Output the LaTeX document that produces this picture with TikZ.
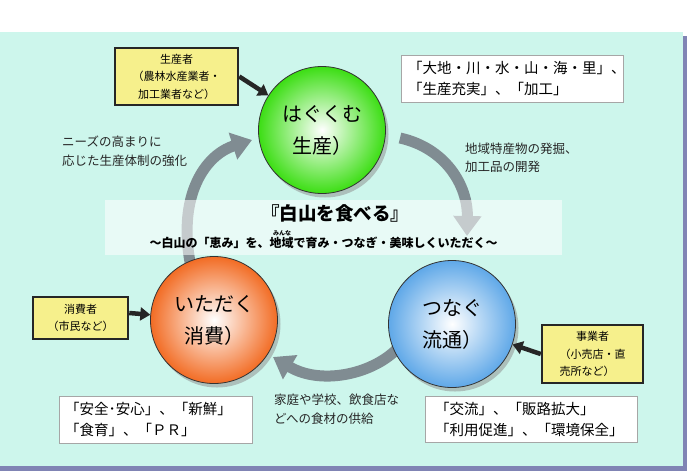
\documentclass[tikz,border=0pt]{standalone}
\usepackage{fontspec}
\setmainfont{Noto Sans CJK JP}
\usetikzlibrary{arrows.meta,shadows,calc}
\definecolor{panelbg}{RGB}{205,246,236}
\definecolor{framec}{RGB}{128,132,180}
\definecolor{flowc}{RGB}{128,140,146}
\definecolor{greenc}{RGB}{60,222,20}
\definecolor{bluec}{RGB}{95,168,232}
\definecolor{orangec}{RGB}{242,108,36}
\definecolor{yellowc}{RGB}{246,240,140}
\begin{document}
\begin{tikzpicture}[x=1pt,y=-1pt,
  circ/.style={circle, minimum size=127pt, inner sep=0pt, draw=black!80, line width=0.8pt,
    shading=radial, inner color=white, align=center, font=\fontsize{20}{32}\selectfont,
    drop shadow={shadow xshift=3pt, shadow yshift=-4pt, fill=black!45, opacity=0.5}},
  ybox/.style={draw=black!85, line width=2.5pt, fill=yellowc, inner sep=0pt, align=center,
    font=\fontsize{11}{17.5}\selectfont},
  wbox/.style={draw=black!35, line width=0.6pt, fill=white, inner ysep=0pt, align=left,
    font=\fontsize{14.5}{21}\selectfont},
  darrow/.style={draw=black!85, line width=4.5pt, -{Triangle[length=10pt,width=13pt]}},
  flow/.style={draw=flowc, line width=11pt, -{Triangle[length=20pt,width=27pt]}},
  lab/.style={align=left, anchor=west, font=\fontsize{12.5}{18.5}\selectfont, text=black!85, inner sep=0pt}
]
\useasboundingbox (0,0) rectangle (690,472);
% panel
\fill[white] (0,0) rectangle (690,472);
\fill[framec] (683,36) rectangle (687,471);
\fill[framec] (0,466) rectangle (687,471);
\fill[panelbg] (0,32) rectangle (683,466);

% flow arcs
\coordinate (a1s) at (400,138);
\coordinate (a1e) at (467,236);
\coordinate (a2s) at (396,350);
\coordinate (a2e) at (273,357);
\coordinate (a3s) at (190,262);
\coordinate (a3e) at (252,140);
\draw[flow] (a1s) .. controls (445,148) and (468,185) .. (a1e);
\draw[flow] (a2s) .. controls (370,375) and (320,385) .. (a2e);
\draw[flow] (a3s) .. controls (178,195) and (205,155) .. (a3e);

% banner
\fill[white, opacity=0.55] (105,200) rectangle (562,255);
\node[font=\bfseries\fontsize{18.5}{20}\selectfont, inner sep=0pt] (title) at (335,213) {『白山を食べる』};
\node[font=\bfseries\fontsize{12}{14}\selectfont, inner sep=0pt] (sub) at (323.5,243) {～白山の「恵み」を、地域で育み・つなぎ・美味しくいただく～};
\node[font=\bfseries\fontsize{6}{7}\selectfont, inner sep=0pt] (ruby) at (282,233) {みんな};

% circles
\node[circ, outer color=greenc] (g) at (322,130) {はぐくむ\\生産）};
\node[circ, outer color=bluec] (b) at (452,324) {つなぐ\\流通）};
\node[circ, outer color=orangec] (o) at (214,320) {いただく\\消費）};

% yellow boxes
\node[ybox, minimum width=123pt, minimum height=57pt] (y1) at (176.5,76.5) {生産者\\（農林水産業者・\\加工業者など）};
\node[ybox, minimum width=95pt, minimum height=42pt] (y2) at (80.5,318) {消費者\\（市民など）};
\node[ybox, minimum width=101pt, minimum height=58pt] (y3) at (592.5,354) {事業者\\（小売店・直\\売所など）\hphantom{あ}};

\draw[darrow] (y1.east) -- (g);
\draw[darrow] ($(y2.east)+(0,-5)$) -- (o);
\draw[darrow] (y3.west) -- (b);

% white boxes
\node[wbox, text width=208pt, inner xsep=7pt, minimum height=47pt] (w1) at (512,78.5) {「大地・川・水・山・海・里」、\\「生産充実」、「加工」};
\node[wbox, text width=181pt, inner xsep=6pt, minimum height=47pt] (w2) at (155.5,419.5) {「安全･安心」、「新鮮」\\「食育」、「ＰＲ」};
\node[wbox, text width=192pt, inner xsep=10pt, minimum height=46pt] (w3) at (531,419) {「交流」、「販路拡大」\\「利用促進」、「環境保全」};

% labels
\node[lab] (l1) at (62,151) {ニーズの高まりに\\応じた生産体制の強化};
\node[lab] (l2) at (465,158) {地域特産物の発掘、\\加工品の開発};
\node[lab] (l3) at (274,409) {家庭や学校、飲食店な\\どへの食材の供給};
\end{tikzpicture}
\end{document}
